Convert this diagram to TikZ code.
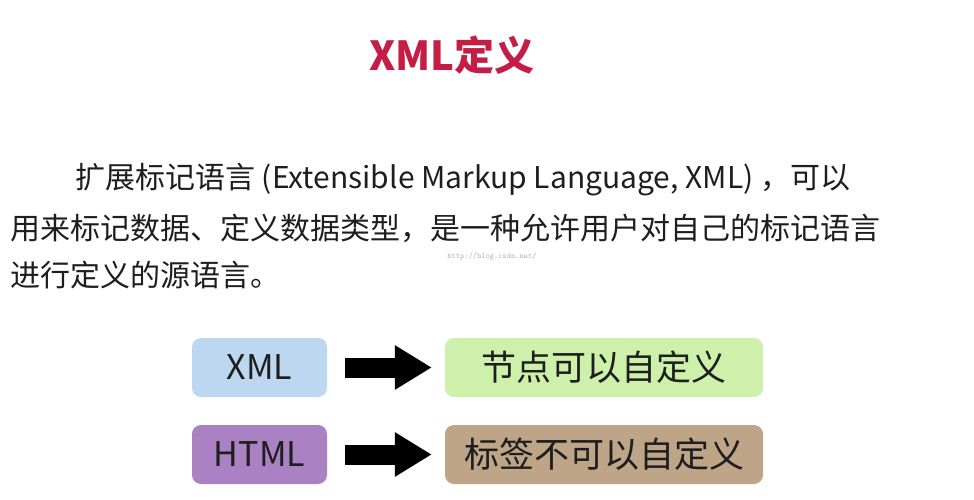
\documentclass[tikz,border=0pt]{standalone}
\usepackage{fontspec}
\setmainfont{Noto Sans CJK SC}
\usetikzlibrary{positioning, arrows.meta}
\definecolor{titlered}{RGB}{196,30,70}
\definecolor{xmlblue}{RGB}{190,215,240}
\definecolor{htmlpurple}{RGB}{170,130,195}
\definecolor{okgreen}{RGB}{205,240,170}
\definecolor{notan}{RGB}{190,165,135}
\definecolor{textgray}{RGB}{30,30,30}
\begin{document}
\begin{tikzpicture}[x=1pt, y=-1pt,
        line/.style={anchor=west, font=\fontsize{30}{34}\selectfont, text=textgray, inner sep=0pt},
        lang/.style={rounded corners=9pt, minimum width=135pt, minimum height=59pt, font=\fontsize{34}{38}\selectfont, text=textgray},
        verdict/.style={rounded corners=9pt, minimum width=318pt, minimum height=59pt, font=\fontsize{35}{38}\selectfont, text=textgray},
        bigarrow/.style={line width=20pt, -{Triangle[length=37pt 0, width=42pt 0]}, shorten <=18pt, shorten >=13pt}]

        \useasboundingbox (0,0) rectangle (974,500);

        % Title
        \node[font=\fontsize{40}{44}\selectfont\bfseries, text=titlered] (title) at (452,55) {XML定义};

        % Definition
        \node[line] (l1) at (75,180) {扩展标记语言 (Extensible Markup Language, XML) ，可以};
        \node[line] (l2) at (10,228) {用来标记数据、定义数据类型，是一种允许用户对自己的标记语言};
        \node[line] (l3) at (10,275) {进行定义的源语言。};
        \node[font=\fontsize{8}{9}\selectfont\ttfamily, text=gray!60] (mark) at (492,257) {http://blog.csdn.net/};

        % Comparison
        \node[lang, fill=xmlblue] (xml) at (259.5,367.5) {XML};
        \node[lang, fill=htmlpurple] (html) at (259.5,454.5) {HTML};
        \node[verdict, fill=okgreen] (self) at (604,367.5) {节点可以自定义};
        \node[verdict, fill=notan] (fixed) at (604,454.5) {标签不可以自定义};

        \draw[bigarrow] (xml) -- (self);
        \draw[bigarrow] (html) -- (fixed);
\end{tikzpicture}
\end{document}
